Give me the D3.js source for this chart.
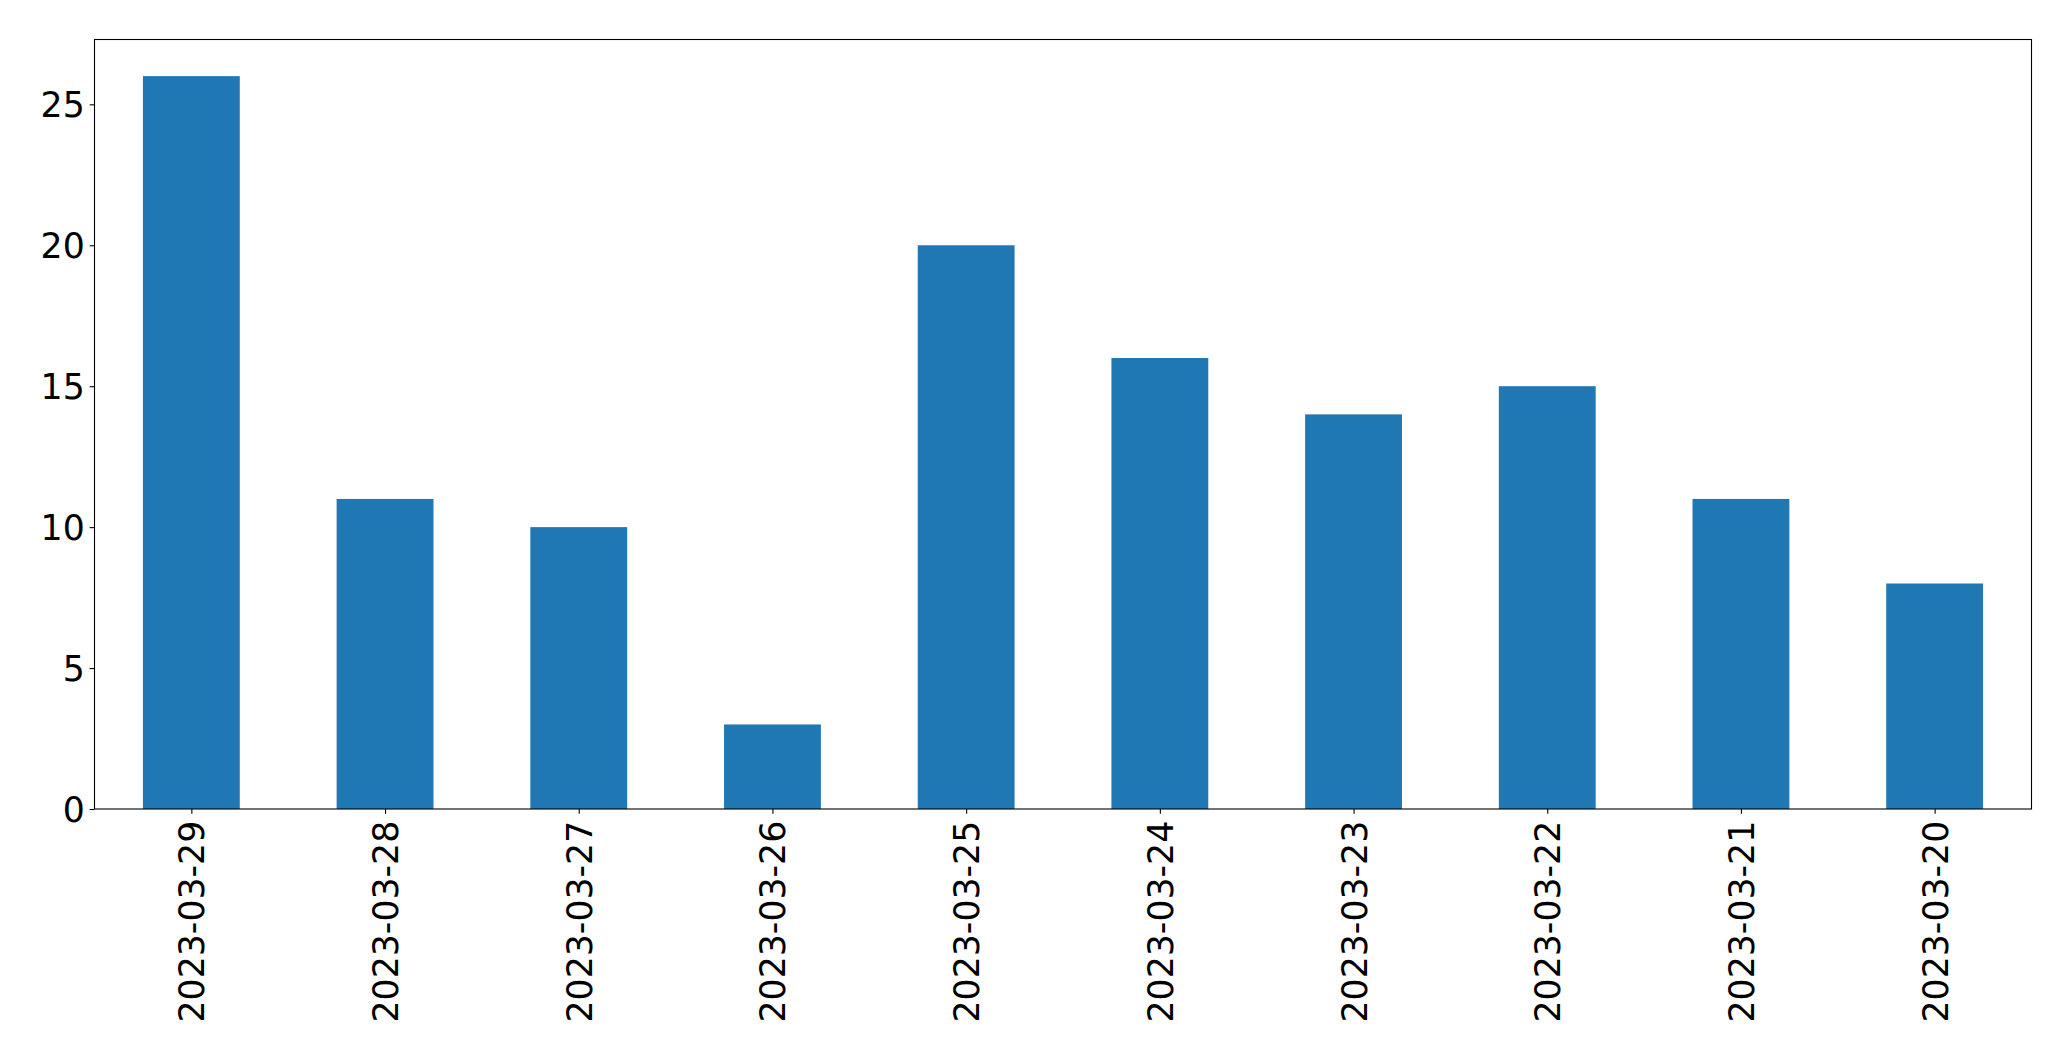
<!DOCTYPE html>
<html>
<head>
<meta charset="utf-8">
<script src="https://cdn.jsdelivr.net/npm/d3@7"></script>
<style>
html,body{margin:0;padding:0;background:#fff;}
svg{display:block;}
text{font-family:"DejaVu Sans",sans-serif;fill:#000;}
</style>
</head>
<body>
<script>
const categories = ["2023-03-29","2023-03-28","2023-03-27","2023-03-26","2023-03-25","2023-03-24","2023-03-23","2023-03-22","2023-03-21","2023-03-20"];
const values = [26, 11, 10, 3, 20, 16, 14, 15, 11, 8];
const yTicks = [0, 5, 10, 15, 20, 25];

(function () {
const W = 2071, H = 1061;
const mLeft = 94.5, mRight = 2031.5, mTop = 39.5, mBottom = 809;
const fontPx = 34.72, tickLen = 4.86, pad = 4.86;

const svg = d3.select("body").append("svg").attr("width", W).attr("height", H);

const x = d3.scaleLinear().domain([-0.5, categories.length - 0.5]).range([mLeft, mRight]);
const y = d3.scaleLinear().domain([0, d3.max(values) * 1.05]).range([mBottom, mTop]);
const bw = x(0.25) - x(-0.25);

svg.append("g").selectAll("rect").data(values).join("rect")
  .attr("x", (d, i) => x(i) - bw / 2)
  .attr("width", bw)
  .attr("y", d => y(d))
  .attr("height", d => y(0) - y(d))
  .attr("fill", "#1f77b4");

svg.append("rect").attr("x", mLeft).attr("y", mTop).attr("width", mRight - mLeft).attr("height", mBottom - mTop)
  .attr("fill", "none").attr("stroke", "#000").attr("stroke-width", 1.1);

const yAxis = d3.axisLeft(y).tickValues(yTicks).tickSize(tickLen).tickPadding(pad).tickFormat(d3.format("d"));
const gy = svg.append("g").attr("transform", `translate(${mLeft},0)`).call(yAxis);
gy.select(".domain").remove();
gy.selectAll("line").attr("stroke", "#000").attr("stroke-width", 1.1);
gy.selectAll("text").attr("font-size", fontPx).attr("font-family", "DejaVu Sans").attr("dy", "0.36em");

const xAxis = d3.axisBottom(x).tickValues(d3.range(categories.length)).tickSize(tickLen).tickPadding(pad)
  .tickFormat(i => categories[i]);
const gx = svg.append("g").attr("transform", `translate(0,${mBottom})`).call(xAxis);
gx.select(".domain").remove();
gx.selectAll("line").attr("stroke", "#000").attr("stroke-width", 1.1);
gx.selectAll("text").attr("font-size", fontPx).attr("font-family", "DejaVu Sans")
  .attr("text-anchor", "end")
  .attr("transform", `translate(0,${tickLen + pad + 2}) rotate(-90)`)
  .attr("x", 0).attr("y", 0).attr("dy", "0.36em");
})();
</script>
</body>
</html>
